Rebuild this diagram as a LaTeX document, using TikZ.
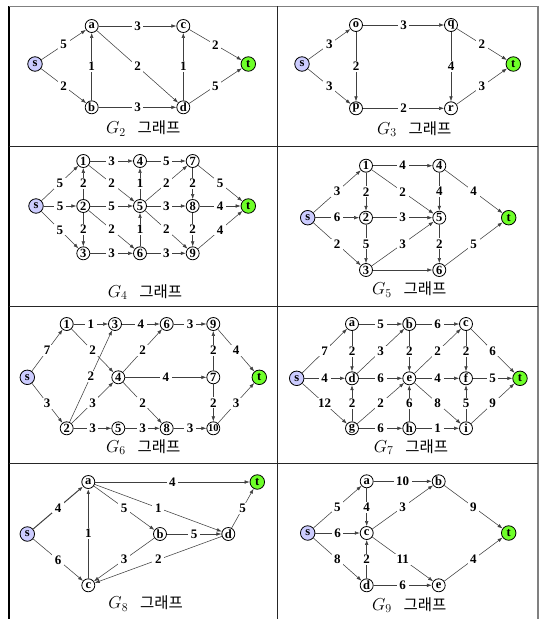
\documentclass[tikz,border=0pt]{standalone}
\usepackage{fontspec}
\setmainfont{Liberation Serif}
\newfontfamily\krfont{Noto Sans CJK KR}
\usetikzlibrary{arrows.meta}
\definecolor{srcblue}{RGB}{204,204,255}
\definecolor{snkgreen}{RGB}{110,255,40}
\tikzset{
 vtx/.style={circle, draw=black, line width=0.8pt, fill=white, inner sep=0pt, minimum size=13pt, font=\fontsize{12.5}{12.5}\selectfont\bfseries},
 src/.style={vtx, fill=srcblue, minimum size=14.5pt},
 snk/.style={vtx, fill=snkgreen, minimum size=14.5pt},
 edge/.style={draw=black!75, line width=0.55pt, -{Latex[length=5pt,width=3.6pt]}},
 thick edge/.style={edge, line width=1pt},
 wt/.style={fill=white, inner xsep=2.6pt, inner ysep=1.2pt, font=\fontsize{13}{13}\selectfont\bfseries},
 captxt/.style={anchor=base, inner sep=0pt, font=\fontsize{17}{17}\selectfont},
 frameline/.style={draw=black!85, line width=0.9pt},
}
\newcommand{\capt}[1]{$G_{#1}$\hspace{0.7em}{\krfont\fontsize{15.5}{15.5}\selectfont 그래프}}
\begin{document}
\begin{tikzpicture}[x=1pt,y=-1pt]
\useasboundingbox (0,0) rectangle (540,619);
% frame
\draw[black, line width=1.3pt] (9,6) -- (9,622);
\draw[gray, line width=1.5pt] (9,6.3) -- (538,6.3) -- (538,622);
\draw[frameline] (277.7,6) -- (277.7,622);
\draw[frameline] (9,146.5) -- (538,146.5);
\draw[frameline] (9,306) -- (538,306);
\draw[frameline] (9,463.5) -- (538,463.5);

% ---------- G2 ----------
\node[src] (s2) at (35,64) {s};
\node[vtx] (a2) at (91.7,26) {a};
\node[vtx] (b2) at (91.7,107.3) {b};
\node[vtx] (c2) at (183.3,26) {c};
\node[vtx] (d2) at (183.3,107.3) {d};
\node[snk] (t2) at (248.3,64) {t};
\draw[edge] (s2) -- node[wt]{5} (a2);
\draw[edge] (s2) -- node[wt]{2} (b2);
\draw[edge] (a2) -- node[wt]{3} (c2);
\draw[edge] (b2) -- node[wt]{1} (a2);
\draw[edge] (a2) -- node[wt]{2} (d2);
\draw[edge] (b2) -- node[wt]{3} (d2);
\draw[edge] (d2) -- node[wt]{1} (c2);
\draw[edge] (c2) -- node[wt]{2} (t2);
\draw[edge] (d2) -- node[wt]{5} (t2);
\node[captxt] (cap2) at (143.3,133.5) {\capt{2}};

% ---------- G3 ----------
\node[src] (s3) at (302,64) {s};
\node[vtx] (o3) at (356,25) {o};
\node[vtx] (p3) at (356,108.3) {p};
\node[vtx] (q3) at (451,25) {q};
\node[vtx] (r3) at (451,108.3) {r};
\node[snk] (t3) at (513.3,64) {t};
\draw[edge] (s3) -- node[wt]{3} (o3);
\draw[edge] (s3) -- node[wt]{3} (p3);
\draw[edge] (o3) -- node[wt]{3} (q3);
\draw[edge] (o3) -- node[wt]{2} (p3);
\draw[edge] (q3) -- node[wt]{4} (r3);
\draw[edge] (p3) -- node[wt]{2} (r3);
\draw[edge] (q3) -- node[wt]{2} (t3);
\draw[edge] (r3) -- node[wt]{3} (t3);
\node[captxt] (cap3) at (414.3,134) {\capt{3}};

% ---------- G4 ----------
\node[src] (s4) at (36,206) {s};
\node[vtx] (n41) at (83.3,161) {1};
\node[vtx] (n42) at (83.3,206) {2};
\node[vtx] (n43) at (83.3,253.3) {3};
\node[vtx] (n44) at (140,161) {4};
\node[vtx] (n45) at (140,206) {5};
\node[vtx] (n46) at (140,253.3) {6};
\node[vtx] (n47) at (192.7,161) {7};
\node[vtx] (n48) at (192.7,206) {8};
\node[vtx] (n49) at (192.7,253.3) {9};
\node[snk] (t4) at (248.3,206) {t};
\draw[edge] (s4) -- node[wt]{5} (n41);
\draw[edge] (s4) -- node[wt]{5} (n42);
\draw[edge] (s4) -- node[wt]{5} (n43);
\draw[edge] (n41) -- node[wt]{3} (n44);
\draw[edge] (n42) -- node[wt]{2} (n41);
\draw[edge] (n41) -- node[wt]{2} (n45);
\draw[edge] (n42) -- node[wt]{5} (n45);
\draw[edge] (n42) -- node[wt]{2} (n43);
\draw[edge] (n42) -- node[wt]{2} (n46);
\draw[edge] (n43) -- node[wt]{3} (n46);
\draw[edge] (n45) -- node[wt]{1} (n44);
\draw[edge] (n46) -- node[wt]{1} (n45);
\draw[edge] (n44) -- node[wt]{5} (n47);
\draw[edge] (n45) -- node[wt]{2} (n47);
\draw[edge] (n45) -- node[wt]{3} (n48);
\draw[edge] (n45) -- node[wt]{2} (n49);
\draw[edge] (n46) -- node[wt]{3} (n49);
\draw[edge] (n47) -- node[wt]{2} (n48);
\draw[edge] (n48) -- node[wt]{2} (n49);
\draw[edge] (n47) -- node[wt]{5} (t4);
\draw[edge] (n48) -- node[wt]{4} (t4);
\draw[edge] (n49) -- node[wt]{4} (t4);
\node[captxt] (cap4) at (145,297) {\capt{4}};

% ---------- G5 ----------
\node[src] (s5) at (307.7,217.7) {s};
\node[vtx] (n51) at (366,165.7) {1};
\node[vtx] (n52) at (366,217.7) {2};
\node[vtx] (n53) at (366,270) {3};
\node[vtx] (n54) at (439.3,165.7) {4};
\node[vtx] (n55) at (439.3,217.7) {5};
\node[vtx] (n56) at (439.3,270) {6};
\node[snk] (t5) at (508.7,217.7) {t};
\draw[edge] (s5) -- node[wt]{3} (n51);
\draw[edge] (s5) -- node[wt]{6} (n52);
\draw[edge] (s5) -- node[wt]{2} (n53);
\draw[edge] (n51) -- node[wt]{4} (n54);
\draw[edge] (n51) -- node[wt]{2} (n52);
\draw[edge] (n51) -- node[wt]{2} (n55);
\draw[edge] (n52) -- node[wt]{3} (n55);
\draw[edge] (n52) -- node[wt]{5} (n53);
\draw[edge] (n53) -- node[wt]{3} (n55);
\draw[edge] (n53) -- (n56);
\draw[edge] (n54) -- node[wt]{4} (n55);
\draw[edge] (n55) -- node[wt]{2} (n56);
\draw[edge] (n54) -- node[wt]{4} (t5);
\draw[edge] (n56) -- node[wt]{5} (t5);
\node[captxt] (cap5) at (409.3,294.5) {\capt{5}};

% ---------- G6 ----------
\node[src] (s6) at (27.3,377.3) {s};
\node[vtx] (n61) at (66.7,324) {1};
\node[vtx] (n62) at (66.7,428.3) {2};
\node[vtx] (n63) at (115,324) {3};
\node[vtx] (n64) at (118.3,377.3) {4};
\node[vtx] (n65) at (118.3,428.3) {5};
\node[vtx] (n66) at (166.7,324) {6};
\node[vtx] (n68) at (166.7,428.3) {8};
\node[vtx] (n69) at (213.3,324) {9};
\node[vtx] (n67) at (213.3,377.3) {7};
\node[vtx, font=\fontsize{10.5}{10.5}\selectfont\bfseries] (n610) at (213.3,428.3) {10};
\node[snk] (t6) at (259.3,377.3) {t};
\draw[edge] (s6) -- node[wt]{7} (n61);
\draw[edge] (s6) -- node[wt]{3} (n62);
\draw[edge] (n61) -- node[wt]{1} (n63);
\draw[edge] (n61) -- node[wt]{2} (n64);
\draw[edge] (n62) -- node[wt]{2} (n63);
\draw[edge] (n62) -- node[wt]{3} (n64);
\draw[edge] (n62) -- node[wt]{3} (n65);
\draw[edge] (n63) -- node[wt]{4} (n66);
\draw[edge] (n64) -- node[wt]{2} (n66);
\draw[edge] (n64) -- node[wt]{4} (n67);
\draw[edge] (n64) -- node[wt]{2} (n68);
\draw[edge] (n65) -- node[wt]{3} (n68);
\draw[edge] (n66) -- node[wt]{3} (n69);
\draw[edge] (n67) -- node[wt]{2} (n69);
\draw[edge] (n67) -- node[wt]{2} (n610);
\draw[edge] (n68) -- node[wt]{3} (n610);
\draw[edge] (n69) -- node[wt]{4} (t6);
\draw[edge] (n610) -- node[wt]{3} (t6);
\node[captxt] (cap6) at (143.3,452) {\capt{6}};

% ---------- G7 ----------
\node[src] (s7) at (296.7,378.3) {s};
\node[vtx] (a7) at (352,324) {a};
\node[vtx] (d7) at (352,378.3) {d};
\node[vtx] (g7) at (352,428.3) {g};
\node[vtx] (b7) at (409.3,324) {b};
\node[vtx] (e7) at (409.3,378.3) {e};
\node[vtx] (h7) at (409.3,428.3) {h};
\node[vtx] (c7) at (466,324) {c};
\node[vtx] (f7) at (466,378.3) {f};
\node[vtx] (i7) at (466,428.3) {i};
\node[snk] (t7) at (520,378.3) {t};
\draw[edge] (s7) -- node[wt]{7} (a7);
\draw[edge] (s7) -- node[wt]{4} (d7);
\draw[edge] (s7) -- node[wt]{12} (g7);
\draw[edge] (a7) -- node[wt]{5} (b7);
\draw[edge] (a7) -- node[wt]{2} (d7);
\draw[edge] (d7) -- node[wt]{3} (b7);
\draw[edge] (d7) -- node[wt]{6} (e7);
\draw[edge] (g7) -- node[wt]{2} (d7);
\draw[edge] (g7) -- node[wt]{2} (e7);
\draw[edge] (g7) -- node[wt]{6} (h7);
\draw[edge] (b7) -- node[wt]{6} (c7);
\draw[edge] (b7) -- node[wt]{2} (e7);
\draw[edge] (e7) -- node[wt]{2} (c7);
\draw[edge] (e7) -- node[wt]{4} (f7);
\draw[edge] (e7) -- node[wt]{8} (i7);
\draw[edge] (h7) -- node[wt]{6} (e7);
\draw[edge] (h7) -- node[wt]{1} (i7);
\draw[edge] (c7) -- node[wt]{2} (f7);
\draw[edge] (i7) -- node[wt]{5} (f7);
\draw[edge] (c7) -- node[wt]{6} (t7);
\draw[edge] (f7) -- node[wt]{5} (t7);
\draw[edge] (i7) -- node[wt]{9} (t7);
\node[captxt] (cap7) at (411,452) {\capt{7}};

% ---------- G8 ----------
\node[src] (s8) at (27.3,534) {s};
\node[vtx] (a8) at (88.3,482) {a};
\node[vtx] (c8) at (88.3,585.3) {c};
\node[vtx] (b8) at (160,534) {b};
\node[vtx] (d8) at (228.3,534) {d};
\node[snk] (t8) at (257.3,482) {t};
\draw[thick edge] (s8) -- node[wt]{4} (a8);
\draw[edge] (s8) -- node[wt]{6} (c8);
\draw[edge] (a8) -- node[wt]{4} (t8);
\draw[edge] (a8) -- node[wt]{5} (b8);
\draw[edge] (a8) -- node[wt]{1} (d8);
\draw[edge] (b8) -- node[wt]{5} (d8);
\draw[edge] (b8) -- node[wt]{3} (c8);
\draw[edge] (d8) -- node[wt]{2} (c8);
\draw[edge] (d8) -- node[wt]{5} (t8);
\draw[thick edge] (c8) -- node[wt]{1} (a8);
\node[captxt] (cap8) at (145.7,608.5) {\capt{8}};

% ---------- G9 ----------
\node[src] (s9) at (307.7,533) {s};
\node[vtx] (a9) at (366.7,481.3) {a};
\node[vtx] (c9) at (366.7,533) {c};
\node[vtx] (d9) at (366.7,585.3) {d};
\node[vtx] (b9) at (438.7,481.3) {b};
\node[vtx] (e9) at (438.7,585.3) {e};
\node[snk] (t9) at (508.7,533) {t};
\draw[edge] (s9) -- node[wt]{5} (a9);
\draw[edge] (s9) -- node[wt]{6} (c9);
\draw[edge] (s9) -- node[wt]{8} (d9);
\draw[edge] (a9) -- node[wt]{10} (b9);
\draw[edge] (a9) -- node[wt]{4} (c9);
\draw[edge] (c9) -- node[wt]{3} (b9);
\draw[edge] (c9) -- node[wt]{11} (e9);
\draw[edge] (d9) -- node[wt]{2} (c9);
\draw[edge] (d9) -- node[wt]{6} (e9);
\draw[edge] (b9) -- node[wt]{9} (t9);
\draw[edge] (e9) -- node[wt]{4} (t9);
\node[captxt] (cap9) at (409.3,610) {\capt{9}};
\end{tikzpicture}
\end{document}
